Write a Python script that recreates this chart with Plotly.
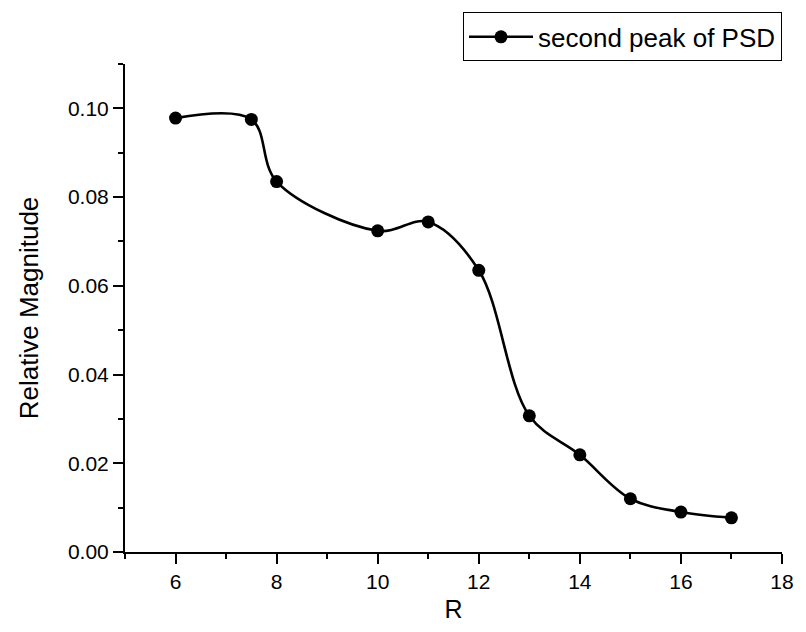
import plotly.graph_objects as go

r_values = [6, 7.5, 8, 10, 11, 12, 13, 14, 15, 16, 17]
magnitude = [0.0978, 0.0975, 0.0835, 0.0724, 0.0744, 0.0635, 0.0307, 0.0219, 0.0120, 0.0090, 0.0077]
series_name = "second peak of PSD"
x_ticks = [6, 8, 10, 12, 14, 16, 18]
y_ticks = [0.00, 0.02, 0.04, 0.06, 0.08, 0.10]
y_tick_labels = ["0.00", "0.02", "0.04", "0.06", "0.08", "0.10"]

font_family = "Liberation Sans, Arial, sans-serif"

fig = go.Figure()
fig.add_trace(go.Scatter(
    x=r_values, y=magnitude, name=series_name,
    mode="lines+markers",
    line=dict(color="black", width=2.6, shape="spline", smoothing=1.0),
    marker=dict(color="black", size=13),
))

fig.update_layout(
    width=806, height=632,
    margin=dict(l=125, r=16, t=60, b=80),
    paper_bgcolor="white", plot_bgcolor="white",
    font=dict(family=font_family, color="black", size=21),
    showlegend=True,
    legend=dict(
        x=1.0, xanchor="right", y=(552 - 8) / 492, yanchor="top",
        bordercolor="black", borderwidth=1, bgcolor="white",
        font=dict(size=26, family=font_family),
        itemwidth=64,
    ),
    xaxis=dict(
        range=[5, 18], tickvals=x_ticks, ticktext=[str(v) for v in x_ticks],
        showline=True, linecolor="black", linewidth=2,
        ticks="outside", ticklen=10, tickwidth=2, tickcolor="black",
        showgrid=False, zeroline=False,
        minor=dict(dtick=1, tick0=5, ticks="outside", ticklen=5, tickwidth=2, tickcolor="black", showgrid=False),
        title=dict(text="R", font=dict(size=25), standoff=8),
        tickfont=dict(size=21),
    ),
    yaxis=dict(
        range=[0, 0.11], tickvals=y_ticks, ticktext=y_tick_labels,
        showline=True, linecolor="black", linewidth=2,
        ticks="outside", ticklen=10, tickwidth=2, tickcolor="black",
        showgrid=False, zeroline=False,
        minor=dict(dtick=0.01, tick0=0, ticks="outside", ticklen=5, tickwidth=2, tickcolor="black", showgrid=False),
        title=dict(text="Relative Magnitude", font=dict(size=26), standoff=22),
        tickfont=dict(size=21),
    ),
)

fig.write_html("out.html")
